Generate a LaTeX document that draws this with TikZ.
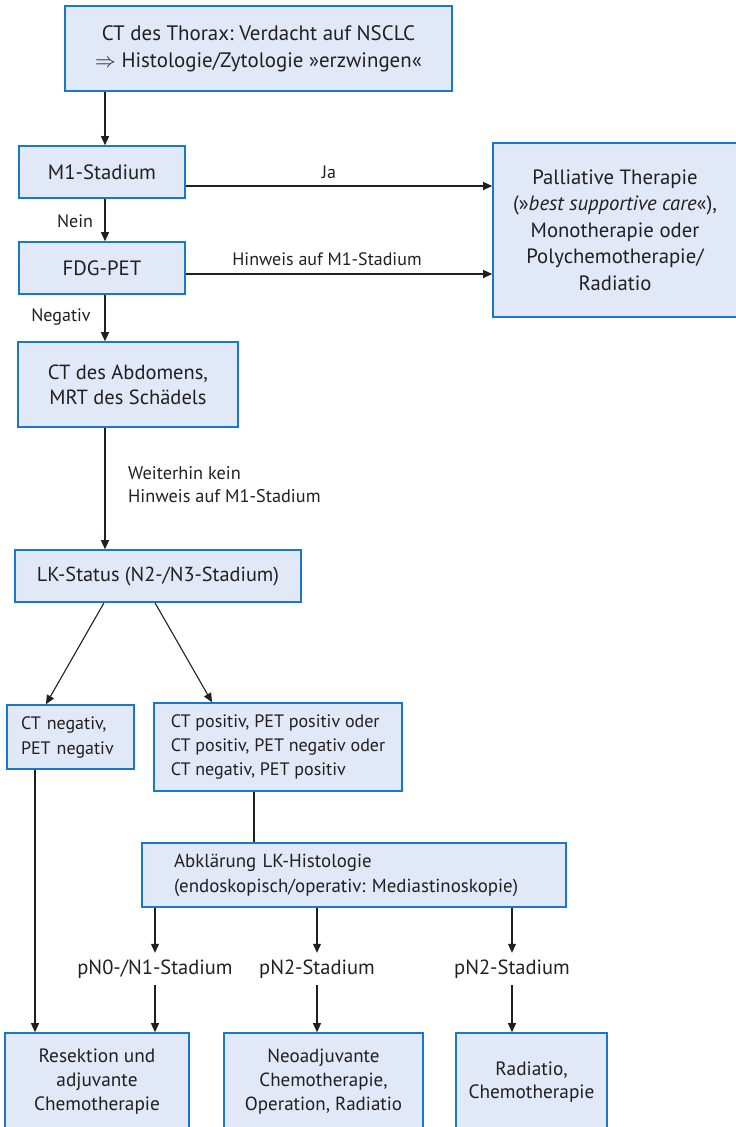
\documentclass[tikz,border=0pt]{standalone}
\usepackage{fontspec}
\setmainfont{PT Sans}
\usetikzlibrary{arrows.meta}
\definecolor{boxfill}{RGB}{225,232,247}
\definecolor{boxline}{RGB}{24,122,196}
\definecolor{ink}{RGB}{35,31,32}
\frenchspacing
\begin{document}
\begin{tikzpicture}[x=1pt,y=-1pt,
  every node/.style={text=ink,font=\fontsize{18}{25}\selectfont},
  big/.style={font=\fontsize{20.7}{26}\selectfont},
  box/.style={draw=boxline,fill=boxfill,line width=1.6pt,inner sep=0pt,align=center},
  lbl/.style={inner sep=0pt,align=left},
  arr/.style={draw=ink,line width=1.1pt,-{Triangle[length=9pt,width=8pt]}},
  ln/.style={draw=ink,line width=1.1pt}]
\useasboundingbox (0,0) rectangle (736,1127);
\clip (0,0) rectangle (736,1127);
\coordinate (vx) at (105,0);
% boxes
\node[box,big,font=\fontsize{20.9}{27}\selectfont,minimum width=387,minimum height=85] (top) at (258.5,48.5)
  {CT des Thorax: Verdacht auf NSCLC\\$\Rightarrow$ Histologie/Zytologie »erzwingen«};
\node[box,big,minimum width=166,minimum height=52] (m1) at (102,172) {M1-Stadium};
\node[box,big,minimum width=166,minimum height=52] (fdg) at (102,268) {FDG-PET};
\node[box,minimum width=244,minimum height=174,font=\fontsize{20.7}{26.5}\selectfont] (pall) at (615,230)
  {Palliative Therapie\\(»\textit{best supportive care}«),\\Monotherapie oder\\Polychemotherapie/\\Radiatio};
\node[box,big,font=\fontsize{20.5}{25}\selectfont,minimum width=220,minimum height=85] (abd) at (128,384.5)
  {CT des Abdomens,\\MRT des Schädels};
\node[box,big,font=\fontsize{20.3}{25}\selectfont,minimum width=286,minimum height=52] (lk) at (158,576) {LK-Status (N2-/N3-Stadium)};
\node[box,minimum width=127,minimum height=64,align=left,text width=99,inner xsep=14pt] (ctneg) at (70.5,737)
  {CT negativ,\\PET negativ};
\node[box,minimum width=248,minimum height=88,align=left,font=\fontsize{18}{24}\selectfont] (ctpos) at (278,747)
  {CT positiv, PET positiv oder\\CT positiv, PET negativ oder\\CT negativ, PET positiv};
\node[box,minimum width=424,minimum height=64,align=left,text width=360,inner xsep=32pt,font=\fontsize{18.9}{25}\selectfont] (abk) at (354,875)
  {Abklärung LK-Histologie\\(endoskopisch/operativ: Mediastinoskopie)};
\node[box,minimum width=184,minimum height=98,font=\fontsize{19.3}{24}\selectfont] (b1) at (97,1082)
  {Resektion und\\adjuvante\\Chemotherapie};
\node[box,minimum width=199,minimum height=98,font=\fontsize{19}{24}\selectfont] (b2) at (323.5,1082)
  {Neoadjuvante\\Chemotherapie,\\Operation, Radiatio};
\node[box,minimum width=151,minimum height=98,font=\fontsize{19.3}{23}\selectfont] (b3) at (531.5,1082)
  {Radiatio,\\Chemotherapie};
% stage labels
\node[lbl,minimum height=32,font=\fontsize{20.5}{24}\selectfont] (p1) at (155,969) {pN0-/N1-Stadium};
\node[lbl,minimum height=32,font=\fontsize{20.5}{24}\selectfont] (p2) at (317,969) {pN2-Stadium};
\node[lbl,minimum height=32,font=\fontsize{20.5}{24}\selectfont] (p3) at (512,969) {pN2-Stadium};
% connector labels
\node[lbl] (ja) at (329,172) {Ja};
\node[lbl] (nein) at (75,221) {Nein};
\node[lbl] (hin) at (327,259) {Hinweis auf M1-Stadium};
\node[lbl] (neg) at (61,317) {Negativ};
\node[lbl,anchor=west,font=\fontsize{18.3}{23}\selectfont] (weit) at (128,484.5) {Weiterhin kein\\Hinweis auf M1-Stadium};
% connectors
\draw[arr] (top.south -| vx) -- (m1.north -| vx);
\draw[arr] (m1.south -| vx) -- (fdg.north -| vx);
\draw[arr] (fdg.south -| vx) -- (abd.north -| vx);
\draw[arr] (abd.south -| vx) -- (lk.north -| vx);
\draw[arr] ([yshift=-14pt]m1.east) -- ([yshift=-14pt]m1.east -| pall.west);
\draw[arr] ([yshift=-6pt]fdg.east) -- ([yshift=-6pt]fdg.east -| pall.west);
\coordinate (la) at (104,0);
\coordinate (lb) at (155,0);
\coordinate (na) at (46,0);
\coordinate (nb) at (212,0);
\draw[arr] (lk.south -| la) -- (ctneg.north -| na);
\draw[arr] (lk.south -| lb) -- (ctpos.north -| nb);
\coordinate (cx) at (35,0);
\draw[arr] (ctneg.south -| cx) -- (b1.north -| cx);
\coordinate (px) at (254,0);
\draw[ln] (ctpos.south -| px) -- (abk.north -| px);
\draw[arr] (abk.south -| p1) -- (p1.north);
\draw[arr] (abk.south -| p2) -- (p2.north);
\draw[arr] (abk.south -| p3) -- (p3.north);
\draw[arr] (p1.south) -- (b1.north -| p1);
\draw[arr] (p2.south) -- (b2.north -| p2);
\draw[arr] (p3.south) -- (b3.north -| p3);
\end{tikzpicture}
\end{document}
